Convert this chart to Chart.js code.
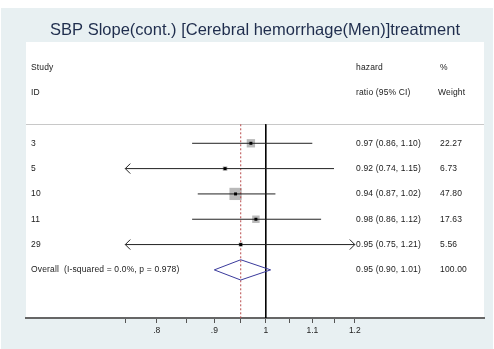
<!DOCTYPE html>
<html>
<head>
<meta charset="utf-8">
<script src="https://cdn.jsdelivr.net/npm/chart.js@4.4.1/dist/chart.umd.min.js"></script>
<style>
  html, body { margin: 0; padding: 0; background: #ffffff; }
  canvas { display: block; }
</style>
</head>
<body>
<canvas id="forest" width="494" height="349"></canvas>
<script>
// ---- data ----
const chartTitle = 'SBP Slope(cont.) [Cerebral hemorrhage(Men)]treatment';
const studyIds = ['3', '5', '10', '11', '29'];
const hazardRatio = [0.97, 0.92, 0.94, 0.98, 0.95];
const ciLower = [0.86, 0.74, 0.87, 0.86, 0.75];
const ciUpper = [1.10, 1.15, 1.02, 1.12, 1.21];
const weightPct = [22.27, 6.73, 47.80, 17.63, 5.56];
const overallLabel = 'Overall  (I-squared = 0.0%, p = 0.978)';
const overallHR = 0.95;
const overallLower = 0.90;
const overallUpper = 1.01;
const overallWeight = 100.00;
const tickValues = [0.75, 0.80, 0.85, 0.90, 0.95, 1.00, 1.05, 1.10, 1.15, 1.20];
const tickLabels = ['', '.8', '', '.9', '', '1', '', '1.1', '', '1.2'];

// ---- layout helpers ----
const FONT = '"Liberation Sans", Arial, sans-serif';
const firstStudyRow = 3;                      // rows 0-1 hold the column headers
const overallRow = firstStudyRow + studyIds.length;
const headerRule = 2.25;                      // rule under the headers
const axisLo = tickValues[0];
const axisHi = tickValues[tickValues.length - 1];
const X_MIN = 0.612, X_MAX = 1.5635;          // visible log range (text columns sit outside the ticks)
const fmt = v => v.toFixed(2);

const datasets = [];

// confidence-interval whiskers, clipped to the tick range
studyIds.forEach((id, i) => {
  const row = firstStudyRow + i;
  datasets.push({
    type: 'line',
    data: [{ x: Math.max(ciLower[i], axisLo), y: row }, { x: Math.min(ciUpper[i], axisHi), y: row }],
    borderColor: '#222',
    borderWidth: 1,
    pointRadius: 0,
    order: 3
  });
});

// line of no effect
datasets.push({
  type: 'line',
  data: [{ x: 1, y: headerRule }, { x: 1, y: 9.9 }],
  borderColor: '#000',
  borderWidth: 1,
  pointRadius: 0,
  order: 5
});

// pooled estimate reference line
datasets.push({
  type: 'line',
  data: [{ x: overallHR, y: headerRule }, { x: overallHR, y: 9.9 }],
  borderColor: '#b84a4a',
  borderWidth: 1,
  borderDash: [2, 2],
  pointRadius: 0,
  order: 4
});

// weight boxes (area proportional to weight)
datasets.push({
  type: 'scatter',
  data: hazardRatio.map((v, i) => ({ x: v, y: firstStudyRow + i })),
  pointStyle: 'rect',
  pointRadius: weightPct.map(w => 1.25 * Math.sqrt(w)),
  backgroundColor: '#b9b9b9',
  borderWidth: 0,
  order: 6
});

// point estimates
datasets.push({
  type: 'scatter',
  data: hazardRatio.map((v, i) => ({ x: v, y: firstStudyRow + i })),
  pointStyle: 'rect',
  pointRadius: 2.1,
  backgroundColor: '#000',
  borderWidth: 0,
  order: 1
});

// pooled diamond
datasets.push({
  type: 'line',
  data: [
    { x: overallLower, y: overallRow },
    { x: overallHR, y: overallRow - 0.4 },
    { x: overallUpper, y: overallRow },
    { x: overallHR, y: overallRow + 0.4 },
    { x: overallLower, y: overallRow }
  ],
  borderColor: '#3a3a9c',
  borderWidth: 1,
  pointRadius: 0,
  fill: false,
  order: 2
});

// panel backgrounds, title and header rule
const framePlugin = {
  id: 'frame',
  beforeDraw(chart) {
    const { ctx, chartArea: a, scales } = chart;
    ctx.save();
    ctx.fillStyle = '#ffffff';
    ctx.fillRect(0, 0, chart.width, chart.height);
    ctx.fillStyle = '#e8f0f2';
    ctx.fillRect(1, 8, chart.width - 2, chart.height - 8);
    ctx.fillStyle = '#ffffff';
    ctx.fillRect(a.left, a.top, a.right - a.left, a.bottom - a.top);

    ctx.fillStyle = '#1f2d4d';
    ctx.font = '16.5px ' + FONT;
    ctx.textAlign = 'center';
    ctx.textBaseline = 'alphabetic';
    ctx.fillText(chartTitle, (a.left + a.right) / 2, 35);

    const ry = Math.round(scales.y.getPixelForValue(headerRule)) + 0.5;
    ctx.strokeStyle = '#c8c8c8';
    ctx.lineWidth = 1;
    ctx.beginPath();
    ctx.moveTo(a.left, ry);
    ctx.lineTo(a.right, ry);
    ctx.stroke();
    ctx.restore();
  }
};

// arrow heads on clipped whiskers, and the text columns
const annotatePlugin = {
  id: 'annotate',
  afterDatasetsDraw(chart) {
    const { ctx, chartArea: a, scales: { x, y } } = chart;
    ctx.save();
    ctx.strokeStyle = '#222';
    ctx.lineWidth = 1;
    studyIds.forEach((id, i) => {
      const py = y.getPixelForValue(firstStudyRow + i);
      if (ciLower[i] <= axisLo) {
        const px = x.getPixelForValue(axisLo);
        ctx.beginPath();
        ctx.moveTo(px + 5, py - 5);
        ctx.lineTo(px, py);
        ctx.lineTo(px + 5, py + 5);
        ctx.stroke();
      }
      if (ciUpper[i] >= axisHi) {
        const px = x.getPixelForValue(axisHi);
        ctx.beginPath();
        ctx.moveTo(px - 5, py - 5);
        ctx.lineTo(px, py);
        ctx.lineTo(px - 5, py + 5);
        ctx.stroke();
      }
    });

    const colLabel = a.left + 5;
    const colHR = a.right - 128;
    const colWt = a.right - 46;
    ctx.fillStyle = '#1a1a1a';
    ctx.font = '8.5px ' + FONT;
    ctx.letterSpacing = '0.15px';
    ctx.textAlign = 'left';
    ctx.textBaseline = 'middle';
    const put = (txt, cx, row) => ctx.fillText(txt, cx, y.getPixelForValue(row));

    put('Study', colLabel, 0);
    put('ID', colLabel, 1);
    put('hazard', colHR, 0);
    put('ratio (95% CI)', colHR, 1);
    put('%', colWt + 2, 0);
    put('Weight', colWt, 1);

    studyIds.forEach((id, i) => {
      const row = firstStudyRow + i;
      put(id, colLabel, row);
      put(`${fmt(hazardRatio[i])} (${fmt(ciLower[i])}, ${fmt(ciUpper[i])})`, colHR, row);
      put(fmt(weightPct[i]), colWt + 2, row);
    });
    put(overallLabel, colLabel, overallRow);
    put(`${fmt(overallHR)} (${fmt(overallLower)}, ${fmt(overallUpper)})`, colHR, overallRow);
    put(fmt(overallWeight), colWt + 2, overallRow);
    ctx.restore();
  }
};

new Chart(document.getElementById('forest'), {
  type: 'scatter',
  data: { datasets },
  options: {
    responsive: false,
    animation: false,
    layout: { padding: { left: 26, right: 10, top: 42, bottom: 0 } },
    plugins: { legend: { display: false }, tooltip: { enabled: false }, title: { display: false } },
    scales: {
      x: {
        type: 'logarithmic',
        position: 'bottom',
        bounds: 'data',
        min: X_MIN,
        max: X_MAX,
        afterBuildTicks(scale) {
          scale.ticks = tickValues.map(v => ({ value: v }));
          scale.min = X_MIN;
          scale.max = X_MAX;
        },
        afterFit(scale) { scale.height = 31; },
        ticks: {
          autoSkip: false,
          maxRotation: 0,
          padding: 3,
          color: '#222',
          font: { size: 8.5, family: FONT },
          callback: (v, i) => tickLabels[i]
        },
        grid: { display: true, drawOnChartArea: false, drawTicks: true, tickLength: 5, color: '#555', lineWidth: 1 },
        border: { display: true, color: '#666', width: 2 }
      },
      y: {
        type: 'linear',
        display: false,
        min: -1,
        max: 9.9,
        reverse: true
      }
    }
  },
  plugins: [framePlugin, annotatePlugin]
});
</script>
</body>
</html>
